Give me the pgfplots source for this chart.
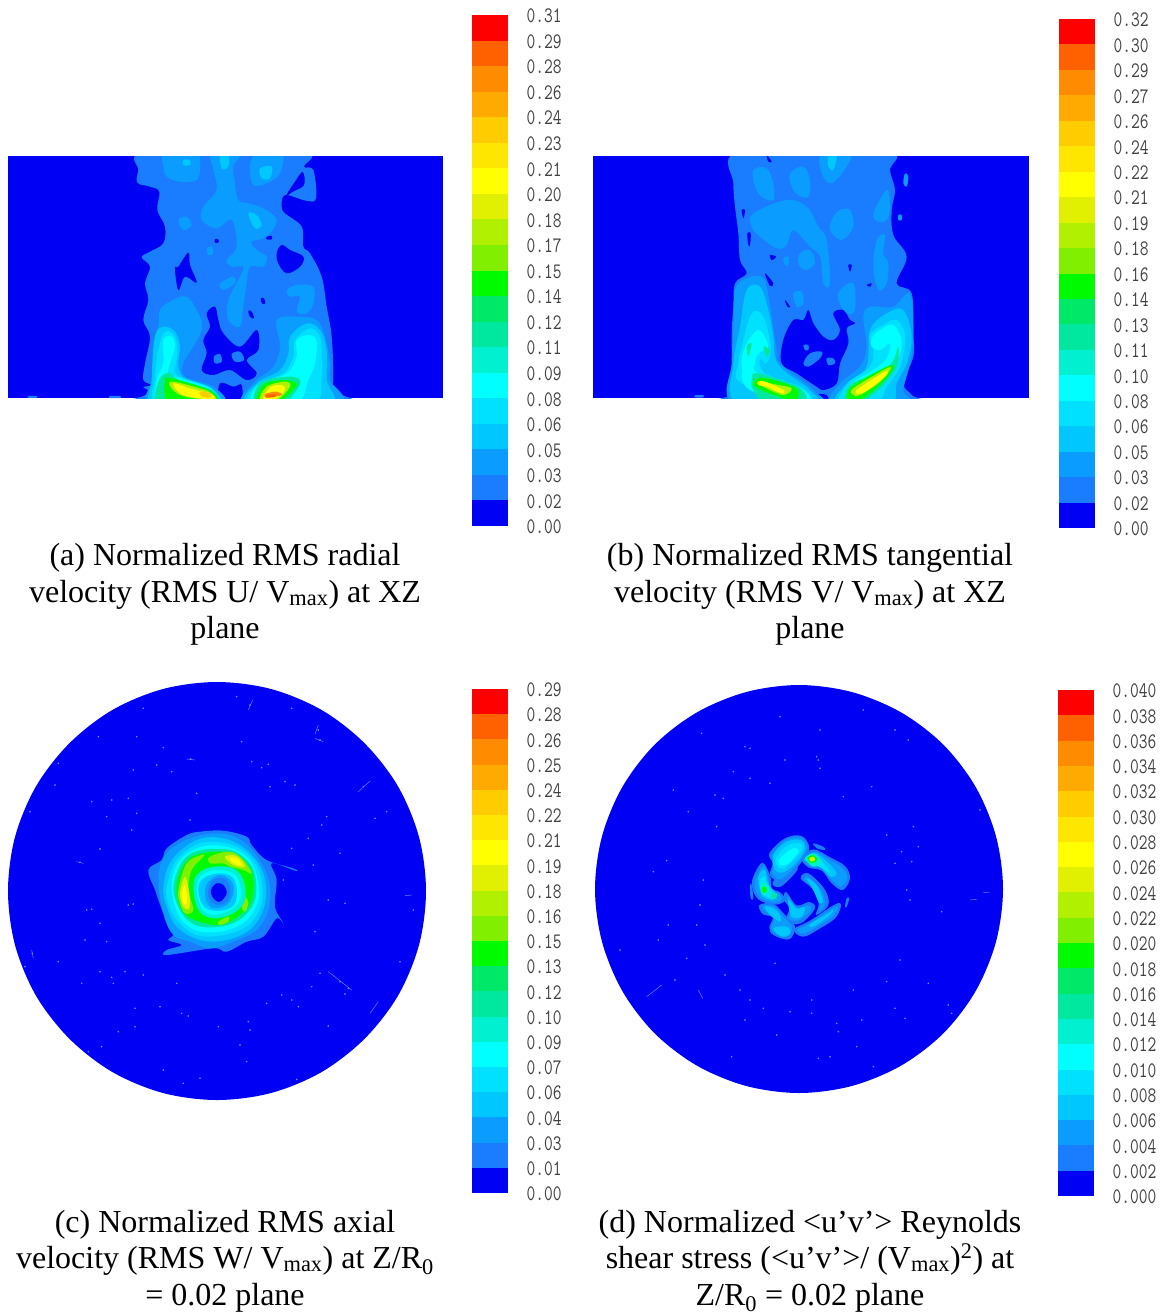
\documentclass[border=0pt]{standalone}
\usepackage{fontspec}
\setmainfont{Liberation Serif}
\usepackage{pgfplots}
\pgfplotsset{compat=1.18}
\definecolor{c1}{HTML}{FF0000}\definecolor{c2}{HTML}{FF6000}\definecolor{c3}{HTML}{FF8C00}\definecolor{c4}{HTML}{FFAA00}
\definecolor{c5}{HTML}{FFCC00}\definecolor{c6}{HTML}{FFE600}\definecolor{c7}{HTML}{FFFF00}\definecolor{c8}{HTML}{E0F000}
\definecolor{c9}{HTML}{B0F000}\definecolor{c10}{HTML}{80F000}\definecolor{c11}{HTML}{00FA00}\definecolor{c12}{HTML}{00E868}
\definecolor{c13}{HTML}{00E8A0}\definecolor{c14}{HTML}{00F0D0}\definecolor{c15}{HTML}{00FFFF}\definecolor{c16}{HTML}{00E0FF}
\definecolor{c17}{HTML}{00C8FF}\definecolor{c18}{HTML}{0A9CFF}\definecolor{c19}{HTML}{1A7CFF}\definecolor{c20}{HTML}{0000F5}
\definecolor{speck}{HTML}{6A86FF}
\pgfplotsset{
 panel/.style={scale only axis,hide axis,y dir=reverse,anchor=center,enlargelimits=false},
 cbar/.style={scale only axis,anchor=center,enlargelimits=false,xmin=0,xmax=1,ymin=0,ymax=20,
   width=36pt,axis line style={draw=none},xtick=\empty,ytick={0,...,20},major tick length=0pt,
   yticklabel pos=right,
   yticklabel style={anchor=west,xshift=15pt,yshift=-1pt,text=black!75,transform shape,yscale=1.3,font=\fontsize{17}{17}\selectfont\ttfamily}},
}
\newcommand{\blob}[2]{\addplot[fill=#1,draw=none,smooth cycle,tension=.6] coordinates {#2};}
\newcommand{\bands}{%
\addplot[fill=c20,draw=none] coordinates {(0,0)(1,0)(1,1)(0,1)} --cycle;
\addplot[fill=c19,draw=none] coordinates {(0,1)(1,1)(1,2)(0,2)} --cycle;
\addplot[fill=c18,draw=none] coordinates {(0,2)(1,2)(1,3)(0,3)} --cycle;
\addplot[fill=c17,draw=none] coordinates {(0,3)(1,3)(1,4)(0,4)} --cycle;
\addplot[fill=c16,draw=none] coordinates {(0,4)(1,4)(1,5)(0,5)} --cycle;
\addplot[fill=c15,draw=none] coordinates {(0,5)(1,5)(1,6)(0,6)} --cycle;
\addplot[fill=c14,draw=none] coordinates {(0,6)(1,6)(1,7)(0,7)} --cycle;
\addplot[fill=c13,draw=none] coordinates {(0,7)(1,7)(1,8)(0,8)} --cycle;
\addplot[fill=c12,draw=none] coordinates {(0,8)(1,8)(1,9)(0,9)} --cycle;
\addplot[fill=c11,draw=none] coordinates {(0,9)(1,9)(1,10)(0,10)} --cycle;
\addplot[fill=c10,draw=none] coordinates {(0,10)(1,10)(1,11)(0,11)} --cycle;
\addplot[fill=c9,draw=none] coordinates {(0,11)(1,11)(1,12)(0,12)} --cycle;
\addplot[fill=c8,draw=none] coordinates {(0,12)(1,12)(1,13)(0,13)} --cycle;
\addplot[fill=c7,draw=none] coordinates {(0,13)(1,13)(1,14)(0,14)} --cycle;
\addplot[fill=c6,draw=none] coordinates {(0,14)(1,14)(1,15)(0,15)} --cycle;
\addplot[fill=c5,draw=none] coordinates {(0,15)(1,15)(1,16)(0,16)} --cycle;
\addplot[fill=c4,draw=none] coordinates {(0,16)(1,16)(1,17)(0,17)} --cycle;
\addplot[fill=c3,draw=none] coordinates {(0,17)(1,17)(1,18)(0,18)} --cycle;
\addplot[fill=c2,draw=none] coordinates {(0,18)(1,18)(1,19)(0,19)} --cycle;
\addplot[fill=c1,draw=none] coordinates {(0,19)(1,19)(1,20)(0,20)} --cycle;
}
\newcommand{\capline}[3]{\node[anchor=base,font=\fontsize{32}{33}\selectfont] at (#1pt,-#2pt) {#3};}
\newcommand{\subt}[1]{\textsubscript{#1}}
\begin{document}
\begin{tikzpicture}
\useasboundingbox (0,0) rectangle (1171pt,-1314pt);
% ---------- panel a
\begin{axis}[panel,at={(225.5pt,-277pt)},width=435pt,height=242pt,xmin=-276,xmax=1029,ymin=18,ymax=744]
\addplot[fill=c20,draw=none] coordinates {(-276,18)(1029,18)(1029,744)(-276,744)} --cycle;
\blob{c19}{(125,10)(115,60)(112,98)(150,110)(178,125)(172,180)(195,230)(190,280)(150,305)(125,322)(150,350)(135,400)(145,450)(130,510)(150,560)(135,640)(130,690)(155,705)(130,712)(160,728)(130,738)(130,760)(720,760)(720,732)(690,715)(700,690)(695,560)(680,470)(665,380)(630,310)(610,290)(605,230)(555,190)(545,170)(555,135)(618,152)(648,145)(640,60)(612,50)(625,10)(400,10)}
\blob{c20}{(558,138)(585,95)(608,66)(612,105)(578,125)}
\blob{c20}{(235,350)(265,308)(270,345)(290,398)(255,380)(235,420)(225,355)}
\blob{c20}{(545,285)(570,300)(610,320)(600,350)(560,370)(535,340)(530,310)}
\blob{c20}{(320,490)(345,470)(355,510)(370,550)(420,590)(470,540)(475,600)(440,630)(470,670)(440,690)(390,660)(340,675)(305,660)(320,610)(310,570)(330,530)}
\blob{c19}{(342,620)(360,612)(365,635)(345,640)}
\blob{c19}{(395,612)(420,605)(432,630)(405,635)}
\blob{c20}{(360,700)(400,710)(425,705)(420,760)(360,760)}
\blob{c20}{(345,268)(355,268)(355,278)(345,278)}
\blob{c20}{(500,260)(515,258)(515,268)(500,268)}
\blob{c20}{(482,445)(492,445)(496,460)(486,460)}
\blob{c20}{(445,482)(455,485)(462,505)(450,500)}
% light patches
\blob{c18}{(190,50)(195,10)(290,10)(300,50)(290,90)(240,95)(200,80)}
\blob{c18}{(335,10)(420,10)(400,50)(405,100)(415,150)(445,160)(490,175)(530,210)(500,260)(455,275)(470,300)(500,320)(490,350)(450,350)(440,400)(430,470)(420,530)(385,510)(385,450)(420,380)(430,350)(395,350)(380,330)(410,290)(395,210)(350,235)(305,210)(310,170)(350,120)(340,60)}
\blob{c18}{(450,50)(470,10)(545,10)(540,70)(500,100)(460,105)}
\blob{c18}{(235,210)(260,200)(275,225)(250,240)}
\blob{c18}{(320,295)(335,290)(340,310)(325,315)}
\blob{c18}{(360,400)(400,380)(405,400)(370,420)}
\blob{c18}{(560,420)(590,405)(640,410)(640,460)(620,490)(590,485)(600,440)(570,440)}
\blob{c17}{(360,10)(385,10)(385,50)(365,55)}
\blob{c17}{(250,30)(270,30)(270,45)(250,45)}
\blob{c17}{(480,55)(515,50)(510,85)(485,85)}
\blob{c17}{(445,190)(470,195)(485,225)(465,235)}
% left lobe
\blob{c18}{(180,480)(210,455)(260,440)(300,500)(305,540)(280,590)(250,640)(255,680)(340,710)(365,760)(150,760)(155,690)(160,580)(175,530)}
\blob{c17}{(165,560)(190,530)(225,545)(240,590)(235,650)(260,690)(340,720)(350,760)(160,760)(155,690)}
\blob{c16}{(175,600)(195,545)(225,560)(232,610)(225,660)(240,680)(335,715)(345,760)(170,760)(165,680)}
\blob{c15}{(190,570)(215,560)(225,590)(210,640)(205,670)(240,685)(330,715)(345,760)(180,760)(170,690)(190,640)}
\blob{c13}{(175,695)(205,668)(240,692)(335,720)(345,760)(180,760)}
\blob{c11}{(195,695)(215,685)(330,722)(345,760)(210,760)}
\blob{c9}{(210,695)(300,715)(335,730)(340,750)(240,735)}
\blob{c7}{(220,700)(270,715)(335,733)(338,748)(250,735)}
\blob{c5}{(300,725)(330,730)(332,742)(305,740)}
% right lobe
\blob{c18}{(530,510)(590,500)(650,510)(675,560)(690,640)(690,690)(720,760)(440,760)(460,700)(520,650)(540,590)}
\blob{c17}{(570,560)(620,520)(660,540)(680,600)(680,690)(690,760)(445,760)(470,700)(540,660)(565,610)}
\blob{c16}{(585,570)(630,535)(660,560)(665,620)(665,680)(640,760)(455,760)(470,705)(550,670)(580,620)}
\blob{c15}{(590,570)(630,555)(650,575)(645,640)(625,690)(590,760)(460,760)(475,705)(560,670)(590,620)}
\blob{c13}{(480,700)(560,680)(600,690)(590,720)(550,760)(465,760)}
\blob{c11}{(490,705)(550,690)(590,700)(575,725)(530,760)(470,760)}
\blob{c9}{(500,710)(555,695)(570,710)(530,750)(480,750)}
\blob{c7}{(510,712)(545,705)(555,720)(525,748)(490,748)}
\blob{c3}{(495,732)(530,725)(545,735)(500,744)}
\blob{c2}{(500,735)(525,733)(525,740)(500,740)}
\blob{c19}{(-215,738)(-190,738)(-190,743)(-215,743)}
\blob{c19}{(30,738)(60,738)(60,744)(30,744)}
\end{axis}
% ---------- panel b
\begin{axis}[panel,at={(811pt,-277pt)},width=436pt,height=242pt,xmin=-291,xmax=1017,ymin=18,ymax=744]
\addplot[fill=c20,draw=none] coordinates {(-291,18)(1017,18)(1017,744)(-291,744)} --cycle;
\blob{c19}{(135,10)(130,100)(135,170)(145,250)(150,330)(170,370)(135,400)(130,470)(125,560)(130,680)(150,700)(140,735)(105,742)(105,760)(665,760)(665,735)(640,700)(670,620)(670,550)(665,430)(620,400)(650,320)(610,255)(605,180)(615,120)(600,60)(610,10)(400,10)}
\blob{c20}{(340,510)(355,480)(370,520)(400,560)(430,570)(450,540)(430,490)(460,480)(480,510)(495,520)(470,535)(475,580)(450,640)(440,700)(400,720)(380,710)(320,670)(275,640)(280,570)(310,510)}
\blob{c19}{(340,640)(360,610)(395,605)(390,625)(355,650)}
\blob{c19}{(410,625)(430,625)(435,640)(415,645)}
\blob{c19}{(340,585)(355,585)(355,600)(345,600)}
\blob{c20}{(155,180)(165,180)(160,205)}
\blob{c20}{(172,250)(182,250)(180,285)(175,285)}
\blob{c20}{(240,315)(258,320)(245,330)}
\blob{c20}{(225,370)(250,400)(240,408)}
\blob{c20}{(285,450)(300,470)(292,470)}
\blob{c20}{(475,345)(485,345)(480,365)}
\blob{c20}{(530,405)(545,400)(540,410)}
\blob{c20}{(230,15)(245,35)(235,35)}
\blob{c20}{(370,735)(410,735)(410,760)(370,760)}
\blob{c18}{(190,60)(230,55)(250,100)(250,150)(215,140)(195,110)}
\blob{c18}{(300,70)(340,50)(360,90)(355,140)(325,135)(305,110)}
\blob{c18}{(190,190)(290,150)(350,170)(385,230)(410,270)(420,400)(400,400)(390,320)(360,290)(310,240)(290,285)(260,295)(210,260)(185,230)}
\blob{c18}{(395,10)(480,10)(470,50)(425,100)(395,70)}
\blob{c18}{(450,180)(480,180)(490,230)(455,270)(420,240)(430,200)}
\blob{c18}{(550,190)(590,120)(600,170)(590,210)(565,215)}
\blob{c18}{(645,70)(655,80)(650,110)(640,100)}
\blob{c18}{(625,195)(635,195)(635,210)(625,210)}
\blob{c18}{(330,310)(360,300)(375,340)(345,360)(325,340)}
\blob{c18}{(280,325)(295,320)(295,345)(285,345)}
\blob{c18}{(450,420)(490,400)(495,480)(470,490)(445,450)}
\blob{c18}{(310,430)(335,425)(340,460)(320,470)}
\blob{c18}{(560,270)(585,255)(580,310)(595,340)(590,400)(565,420)(550,350)}
\blob{c17}{(415,18)(440,18)(430,60)(415,50)}
% left lobe
\blob{c18}{(135,420)(170,385)(215,380)(230,410)(250,530)(260,600)(270,640)(370,720)(385,760)(130,760)(125,640)(130,540)}
\blob{c17}{(150,530)(170,420)(210,410)(235,480)(250,560)(255,620)(280,660)(360,720)(370,760)(140,760)(130,640)}
\blob{c16}{(155,590)(185,490)(220,500)(242,590)(230,640)(210,625)(225,670)(340,715)(355,760)(155,700)(145,640)}
\blob{c15}{(165,590)(205,540)(235,590)(205,610)(195,640)(205,670)(340,720)(345,760)(180,720)(155,650)}
\blob{c13}{(170,590)(185,580)(175,620)}
\blob{c13}{(220,590)(240,600)(230,620)}
\blob{c13}{(185,690)(205,670)(330,715)(340,760)(230,760)(190,720)}
\blob{c11}{(195,690)(230,685)(320,715)(315,750)(265,740)(195,710)}
\blob{c9}{(205,695)(265,705)(305,715)(280,735)(220,710)}
\blob{c7}{(205,695)(225,695)(280,720)(275,730)(235,712)(205,705)}
% right lobe
\blob{c18}{(540,470)(610,470)(660,430)(670,560)(660,640)(640,720)(650,760)(430,760)(450,700)(510,650)(530,590)(520,500)}
\blob{c17}{(540,540)(590,490)(640,480)(665,560)(650,640)(620,700)(600,760)(440,760)(470,700)(530,650)}
\blob{c16}{(540,555)(580,525)(620,510)(645,560)(630,650)(590,710)(560,760)(450,760)(475,700)(540,650)(550,600)}
\blob{c15}{(545,565)(570,540)(610,525)(635,580)(610,660)(560,720)(480,760)(460,760)(480,705)(550,660)(590,625)(600,580)(570,600)(545,590)}
\blob{c13}{(480,705)(560,670)(605,640)(625,590)(620,650)(570,715)(510,760)(465,760)}
\blob{c11}{(485,710)(590,650)(610,655)(570,705)(510,750)(475,750)}
\blob{c9}{(490,715)(590,655)(600,660)(565,700)(510,735)(490,735)}
\blob{c7}{(500,720)(585,665)(590,675)(560,700)(515,730)}
\blob{c19}{(15,736)(40,736)(40,742)(15,742)}
\end{axis}
% ---------- panel c
\begin{axis}[panel,at={(217pt,-891pt)},width=418pt,height=418pt,xmin=-366,xmax=888,ymin=-384,ymax=870]
\addplot[fill=c20,draw=none,smooth cycle,tension=.55] coordinates {(888,243)(867,405)(804,557)(704,686)(575,786)(423,849)(261,870)(99,849)(-53,786)(-182,686)(-282,557)(-345,405)(-366,243)(-345,81)(-282,-71)(-182,-200)(-53,-300)(99,-363)(261,-384)(423,-363)(575,-300)(704,-200)(804,-71)(867,81)};
\blob{c19}{(55,180)(95,150)(110,115)(170,75)(210,65)(280,62)(350,80)(365,105)(410,150)(490,175)(495,182)(425,160)(440,210)(435,290)(460,340)(440,325)(400,380)(350,395)(290,425)(250,415)(110,435)(110,420)(155,405)(115,390)(130,370)(100,310)(75,240)}
\blob{c18}{(85,200)(110,130)(180,85)(270,70)(340,95)(395,160)(420,230)(415,300)(380,360)(310,395)(240,415)(180,395)(130,375)(100,310)}
\blob{c17}{(100,230)(125,150)(200,90)(280,85)(350,120)(400,190)(405,280)(365,355)(290,390)(210,390)(140,350)(110,290)}
\blob{c16}{(110,230)(140,150)(210,100)(290,100)(350,130)(390,190)(395,280)(355,345)(280,375)(200,375)(140,330)(115,280)}
\blob{c15}{(125,225)(150,150)(215,110)(290,110)(350,140)(380,195)(385,270)(345,335)(270,365)(195,360)(145,315)}
\blob{c13}{(130,230)(160,150)(215,120)(300,120)(350,150)(375,195)(375,270)(335,325)(270,350)(195,345)(150,300)}
\blob{c11}{(140,230)(165,160)(215,130)(310,130)(365,185)(365,270)(330,315)(270,345)(195,330)(155,300)}
\blob{c10}{(145,240)(170,160)(215,135)(220,140)(185,180)(175,240)(190,300)(165,310)(150,280)}
\blob{c10}{(240,140)(300,125)(340,150)(365,190)(340,180)(300,170)(280,160)(240,160)}
\blob{c8}{(150,250)(165,200)(178,250)(178,295)(160,290)}
\blob{c8}{(285,140)(320,138)(345,170)(310,165)}
\blob{c7}{(155,250)(165,225)(170,255)(170,280)(160,280)}
\blob{c7}{(300,145)(320,145)(335,165)(312,160)}
\blob{c10}{(335,290)(345,260)(355,280)(345,305)}
\blob{c10}{(265,335)(295,320)(295,335)(270,345)}
\blob{c14}{(190,230)(205,190)(250,170)(310,175)(340,210)(345,270)(310,310)(250,325)(205,300)}
\blob{c15}{(200,235)(215,195)(260,180)(310,190)(330,225)(330,270)(300,300)(250,315)(215,295)}
\blob{c17}{(205,235)(220,205)(265,190)(305,200)(320,235)(315,280)(285,300)(240,300)(215,280)}
\blob{c18}{(225,245)(235,215)(270,195)(305,215)(310,250)(290,285)(250,295)(230,275)}
\blob{c19}{(235,240)(250,210)(280,205)(300,230)(295,270)(265,285)(240,270)}
\blob{c20}{(243,240)(260,220)(280,225)(290,250)(270,275)(250,265)}
\end{axis}
\begin{axis}[panel,at={(217pt,-891pt)},width=418pt,height=418pt,xmin=24,xmax=1278,ymin=21,ymax=1275]
\addplot[only marks,mark=*,mark size=0.6pt,speck,mark options={draw=none,fill=speck}] coordinates {(750,90)(955,165)(960,195)(410,185)(295,185)(490,218)(572,252)(515,290)(470,270)(400,285)(785,278)(805,268)(855,320)(885,330)(810,335)(1090,335)(590,355)(275,380)(335,375)(385,370)(320,425)(165,330)(175,265)(90,410)(410,415)(570,435)(395,465)(965,450)(980,425)(1160,410)(1125,430)(925,490)(875,520)(1020,535)(240,562)(300,522)(940,570)(850,615)(755,260)(725,200)(430,100)(710,65)(875,100)
(260,705)(275,703)(385,690)(400,687)(255,795)(300,745)(320,800)(97,835)(300,890)(340,925)(245,925)(335,907)(430,900)(375,890)(530,925)(545,1015)(565,1023)(480,995)(405,1000)(355,1070)(305,1115)(405,1055)(655,1055)(745,1040)(750,1065)(985,1053)(720,1110)(740,1160)(600,1210)(890,1213)(550,1225)(490,1185)(960,895)(1020,920)(1045,940)(1035,957)(935,935)(875,975)(845,960)(895,995)(800,985)(1200,860)(945,770)(1240,705)(985,675)(1035,685)(175,860)(75,875)(265,1130)};
\addplot[speck,line width=0.5pt] coordinates {(745,105)(758,75)};
\addplot[speck,line width=0.5pt] coordinates {(945,178)(955,150)};
\addplot[speck,line width=0.5pt] coordinates {(945,190)(970,200)};
\addplot[speck,line width=0.5pt] coordinates {(1075,350)(1110,318)};
\addplot[speck,line width=0.5pt] coordinates {(560,252)(585,255)};
\addplot[speck,line width=0.5pt] coordinates {(1110,1015)(1135,980)};
\addplot[speck,line width=0.5pt] coordinates {(985,890)(1055,945)};
\addplot[speck,line width=0.5pt] coordinates {(230,560)(250,565)};
\addplot[speck,line width=0.5pt] coordinates {(1215,662)(1235,660)};
\addplot[speck,line width=0.5pt] coordinates {(95,825)(100,850)};
\end{axis}
% ---------- panel d
\begin{axis}[panel,at={(799pt,-889pt)},width=408pt,height=408pt,xmin=-405,xmax=819,ymin=-405,ymax=819]
\addplot[fill=c20,draw=none,smooth cycle,tension=.55] coordinates {(819,207)(798,365)(737,513)(640,640)(513,737)(365,798)(207,819)(49,798)(-99,737)(-226,640)(-323,513)(-384,365)(-405,207)(-384,49)(-323,-99)(-226,-226)(-99,-323)(49,-384)(207,-405)(365,-384)(513,-323)(640,-226)(737,-99)(798,49)};
\blob{c19}{(118,100)(165,55)(215,48)(238,85)(215,125)(190,155)(150,185)(120,165)(128,130)}
\blob{c19}{(215,115)(250,88)(300,112)(345,138)(360,175)(338,210)(305,190)(275,152)(235,142)}
\blob{c19}{(72,165)(98,128)(122,172)(125,205)(152,218)(165,242)(132,254)(85,238)(66,200)}
\blob{c19}{(88,255)(130,252)(168,288)(195,320)(178,358)(130,345)(118,322)(128,292)(98,282)}
\blob{c19}{(162,240)(168,216)(200,256)(238,246)(255,265)(212,310)(168,304)(178,265)}
\blob{c19}{(192,328)(240,302)(310,256)(333,252)(318,292)(272,324)(220,350)}
\blob{c19}{(212,175)(235,160)(284,208)(295,255)(258,285)(266,250)(246,206)}
\blob{c19}{(128,186)(185,142)(202,150)(152,200)}
\blob{c19}{(60,195)(65,195)(70,235)(62,235)}
\blob{c19}{(350,235)(358,235)(350,260)(345,260)}
\blob{c19}{(250,70)(280,80)(285,90)(260,85)}
\blob{c18}{(125,105)(168,60)(214,54)(232,85)(210,122)(186,150)(150,178)(126,160)(134,130)}
\blob{c18}{(222,118)(255,95)(300,120)(338,145)(352,175)(332,200)(306,180)(276,147)(238,138)}
\blob{c18}{(80,170)(102,138)(116,180)(120,208)(148,222)(155,240)(128,248)(90,232)(74,200)}
\blob{c18}{(98,258)(130,258)(160,290)(186,322)(172,350)(132,338)(124,320)(134,290)(108,276)}
\blob{c18}{(172,240)(176,228)(200,264)(232,256)(244,268)(208,300)(176,296)(186,265)}
\blob{c18}{(202,328)(240,310)(306,266)(324,262)(310,288)(268,316)(222,340)}
\blob{c18}{(222,178)(236,172)(276,214)(284,254)(266,272)(272,248)(254,206)}
\blob{c17}{(130,105)(170,65)(212,60)(225,85)(205,120)(165,155)(135,150)}
\blob{c16}{(140,110)(175,75)(210,70)(218,85)(195,115)(160,145)(140,135)}
\blob{c15}{(150,115)(190,85)(205,95)(175,130)(150,135)}
\blob{c17}{(222,118)(255,100)(290,125)(320,160)(300,170)(270,140)}
\blob{c16}{(226,118)(252,102)(280,128)(300,158)(272,142)}
\blob{c14}{(228,115)(250,100)(275,125)(250,140)}
\blob{c11}{(232,115)(248,105)(262,118)(245,130)}
\blob{c8}{(238,115)(250,110)(255,120)(243,124)}
\blob{c17}{(85,170)(105,150)(115,190)(140,225)(130,240)(95,225)}
\blob{c16}{(88,185)(104,170)(112,195)(130,222)(125,235)(98,222)}
\blob{c14}{(90,195)(110,190)(118,215)(100,225)}
\blob{c11}{(95,205)(107,200)(110,215)(100,218)}
\blob{c13}{(125,220)(140,220)(138,235)(125,235)}
\blob{c17}{(105,260)(130,265)(150,285)(150,305)(120,285)}
\blob{c17}{(130,325)(170,320)(180,340)(155,350)}
\blob{c17}{(175,240)(200,265)(225,262)(215,290)(185,290)}
\blob{c17}{(240,312)(295,280)(310,268)(300,285)(250,320)}
\blob{c17}{(230,175)(260,195)(278,240)(268,250)(248,205)}
\end{axis}
\begin{axis}[panel,at={(799pt,-889pt)},width=408pt,height=408pt,xmin=15,xmax=1239,ymin=15,ymax=1239]
\addplot[only marks,mark=*,mark size=0.6pt,speck,mark options={draw=none,fill=speck}] coordinates {(570,110)(690,150)(465,200)(480,205)(585,240)(680,230)(685,240)(690,265)(820,90)(915,150)(955,180)(375,345)(400,355)(295,395)(380,440)(230,542)(190,575)(340,600)(915,550)(935,515)(985,500)(965,545)(950,630)(960,660)(1055,695)(890,465)(970,440)(1170,390)(845,320)(760,350)(540,310)(430,275)(480,295)(250,330)(335,160)(235,735)(330,675)(320,735)(205,780)(345,795)(90,810)(290,835)(255,900)(405,885)(555,850)(450,930)(480,960)(465,1020)(520,985)(665,960)(665,1000)(600,995)(740,1030)(745,1055)(560,1065)(425,1130)(685,1135)(720,1130)(800,1100)(815,1020)(945,1015)(915,985)(1075,975)(1015,910)(930,840)(890,905)(790,930)(850,1160)(1085,1000)};
\addplot[speck,line width=0.5pt] coordinates {(170,950)(215,915)};
\addplot[speck,line width=0.5pt] coordinates {(1140,660)(1160,658)};
\addplot[speck,line width=0.5pt] coordinates {(1180,638)(1200,636)};
\addplot[speck,line width=0.5pt] coordinates {(325,930)(338,955)};
\end{axis}
% ---------- colour bars
\begin{axis}[cbar,at={(490pt,-270.5pt)},height=511pt,yticklabels={0.00,0.02,0.03,0.05,0.06,0.08,0.09,0.11,0.12,0.14,0.15,0.17,0.18,0.20,0.21,0.23,0.24,0.26,0.28,0.29,0.31}]
\bands
\end{axis}
\begin{axis}[cbar,at={(1077pt,-273.5pt)},height=509pt,yticklabels={0.00,0.02,0.03,0.05,0.06,0.08,0.10,0.11,0.13,0.14,0.16,0.18,0.19,0.21,0.22,0.24,0.26,0.27,0.29,0.30,0.32}]
\bands
\end{axis}
\begin{axis}[cbar,at={(490pt,-941pt)},height=504pt,yticklabels={0.00,0.01,0.03,0.04,0.06,0.07,0.09,0.10,0.12,0.13,0.15,0.16,0.18,0.19,0.21,0.22,0.24,0.25,0.26,0.28,0.29}]
\bands
\end{axis}
\begin{axis}[cbar,at={(1076pt,-943pt)},height=506pt,yticklabels={0.000,0.002,0.004,0.006,0.008,0.010,0.012,0.014,0.016,0.018,0.020,0.022,0.024,0.026,0.028,0.030,0.032,0.034,0.036,0.038,0.040}]
\bands
\end{axis}
% ---------- captions
\capline{225}{565}{(a) Normalized RMS radial}
\capline{225}{602}{velocity (RMS U/ V\subt{max}) at XZ}
\capline{225}{638}{plane}
\capline{810}{565}{(b) Normalized RMS tangential}
\capline{810}{602}{velocity (RMS V/ V\subt{max}) at XZ}
\capline{810}{638}{plane}
\capline{225}{1232}{(c) Normalized RMS axial}
\capline{225}{1268}{velocity (RMS W/ V\subt{max}) at Z/R\subt{0}}
\capline{225}{1305}{= 0.02 plane}
\capline{810}{1232}{(d) Normalized <u’v’> Reynolds}
\capline{810}{1268}{shear stress (<u’v’>/ (V\subt{max})\textsuperscript{2}) at}
\capline{810}{1305}{Z/R\subt{0} = 0.02 plane}
\end{tikzpicture}
\end{document}
